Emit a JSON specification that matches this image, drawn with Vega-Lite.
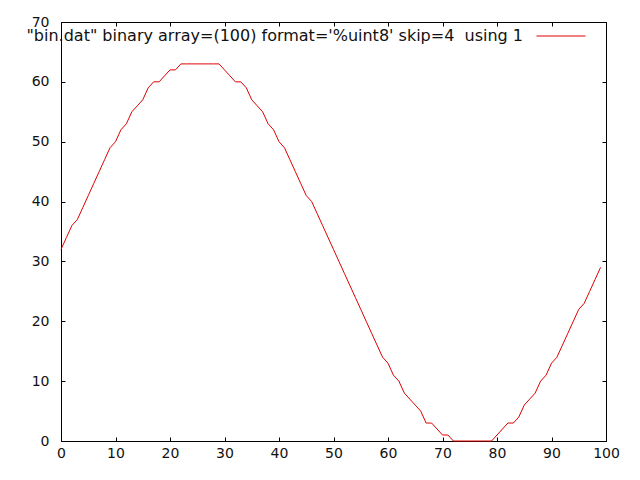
{
  "$schema": "https://vega.github.io/schema/vega-lite/v6.json",
  "autosize": "none",
  "width": 545,
  "height": 419,
  "padding": {"left": 61, "top": 22, "right": 34, "bottom": 39},
  "background": "white",
  "config": {
    "view": {"stroke": "black", "strokeWidth": 1},
    "font": "DejaVu Sans",
    "axis": {
      "grid": false,
      "domain": false,
      "ticks": true,
      "tickSize": -4,
      "tickColor": "black",
      "tickWidth": 1,
      "labelFont": "DejaVu Sans",
      "labelFontSize": 14,
      "labelColor": "#111111",
      "title": null
    },
    "legend": {
      "orient": "none",
      "legendX": 475,
      "legendY": -11,
      "title": null,
      "symbolType": "stroke",
      "symbolSize": 2401,
      "symbolStrokeWidth": 1,
      "labelAlign": "right",
      "labelOffset": -63,
      "labelFont": "DejaVu Sans",
      "labelFontSize": 16,
      "labelColor": "#111111",
      "labelLimit": 0,
      "padding": 0
    }
  },
  "data": {
    "values": [
      {"index": 0, "value": 32}, {"index": 1, "value": 34}, {"index": 2, "value": 36}, {"index": 3, "value": 37},
      {"index": 4, "value": 39}, {"index": 5, "value": 41}, {"index": 6, "value": 43}, {"index": 7, "value": 45},
      {"index": 8, "value": 47}, {"index": 9, "value": 49}, {"index": 10, "value": 50}, {"index": 11, "value": 52},
      {"index": 12, "value": 53}, {"index": 13, "value": 55}, {"index": 14, "value": 56}, {"index": 15, "value": 57},
      {"index": 16, "value": 59}, {"index": 17, "value": 60}, {"index": 18, "value": 60}, {"index": 19, "value": 61},
      {"index": 20, "value": 62}, {"index": 21, "value": 62}, {"index": 22, "value": 63}, {"index": 23, "value": 63},
      {"index": 24, "value": 63}, {"index": 25, "value": 63}, {"index": 26, "value": 63}, {"index": 27, "value": 63},
      {"index": 28, "value": 63}, {"index": 29, "value": 63}, {"index": 30, "value": 62}, {"index": 31, "value": 61},
      {"index": 32, "value": 60}, {"index": 33, "value": 60}, {"index": 34, "value": 59}, {"index": 35, "value": 57},
      {"index": 36, "value": 56}, {"index": 37, "value": 55}, {"index": 38, "value": 53}, {"index": 39, "value": 52},
      {"index": 40, "value": 50}, {"index": 41, "value": 49}, {"index": 42, "value": 47}, {"index": 43, "value": 45},
      {"index": 44, "value": 43}, {"index": 45, "value": 41}, {"index": 46, "value": 40}, {"index": 47, "value": 38},
      {"index": 48, "value": 36}, {"index": 49, "value": 34}, {"index": 50, "value": 32}, {"index": 51, "value": 30},
      {"index": 52, "value": 28}, {"index": 53, "value": 26}, {"index": 54, "value": 24}, {"index": 55, "value": 22},
      {"index": 56, "value": 20}, {"index": 57, "value": 18}, {"index": 58, "value": 16}, {"index": 59, "value": 14},
      {"index": 60, "value": 13}, {"index": 61, "value": 11}, {"index": 62, "value": 10}, {"index": 63, "value": 8},
      {"index": 64, "value": 7}, {"index": 65, "value": 6}, {"index": 66, "value": 5}, {"index": 67, "value": 3},
      {"index": 68, "value": 3}, {"index": 69, "value": 2}, {"index": 70, "value": 1}, {"index": 71, "value": 1},
      {"index": 72, "value": 0}, {"index": 73, "value": 0}, {"index": 74, "value": 0}, {"index": 75, "value": 0},
      {"index": 76, "value": 0}, {"index": 77, "value": 0}, {"index": 78, "value": 0}, {"index": 79, "value": 0},
      {"index": 80, "value": 1}, {"index": 81, "value": 2}, {"index": 82, "value": 3}, {"index": 83, "value": 3},
      {"index": 84, "value": 4}, {"index": 85, "value": 6}, {"index": 86, "value": 7}, {"index": 87, "value": 8},
      {"index": 88, "value": 10}, {"index": 89, "value": 11}, {"index": 90, "value": 13}, {"index": 91, "value": 14},
      {"index": 92, "value": 16}, {"index": 93, "value": 18}, {"index": 94, "value": 20}, {"index": 95, "value": 22},
      {"index": 96, "value": 23}, {"index": 97, "value": 25}, {"index": 98, "value": 27}, {"index": 99, "value": 29}
    ]
  },
  "layer": [
    {
      "mark": {"type": "line", "strokeWidth": 1, "interpolate": "linear"},
      "encoding": {
        "x": {
          "field": "index", "type": "quantitative",
          "scale": {"domain": [0, 100], "nice": false, "zero": false},
          "axis": {"orient": "bottom", "values": [0, 10, 20, 30, 40, 50, 60, 70, 80, 90, 100], "labelPadding": 9, "labelFlush": false, "labelOverlap": false}
        },
        "y": {
          "field": "value", "type": "quantitative",
          "scale": {"domain": [0, 70], "nice": false, "zero": false},
          "axis": {"orient": "left", "values": [0, 10, 20, 30, 40, 50, 60, 70], "labelPadding": 16, "labelFlush": false, "labelOverlap": false}
        },
        "color": {
          "datum": "\"bin.dat\" binary array=(100) format='%uint8' skip=4\u00a0 using 1",
          "scale": {"range": ["#dd0000"]}
        }
      }
    },
    {
      "mark": {"type": "line", "opacity": 0},
      "encoding": {
        "x": {
          "field": "index", "type": "quantitative",
          "axis": {"orient": "top", "values": [0, 10, 20, 30, 40, 50, 60, 70, 80, 90, 100], "labels": false}
        },
        "y": {
          "field": "value", "type": "quantitative",
          "axis": {"orient": "right", "values": [0, 10, 20, 30, 40, 50, 60, 70], "labels": false}
        }
      }
    }
  ],
  "resolve": {"axis": {"x": "independent", "y": "independent"}}
}
